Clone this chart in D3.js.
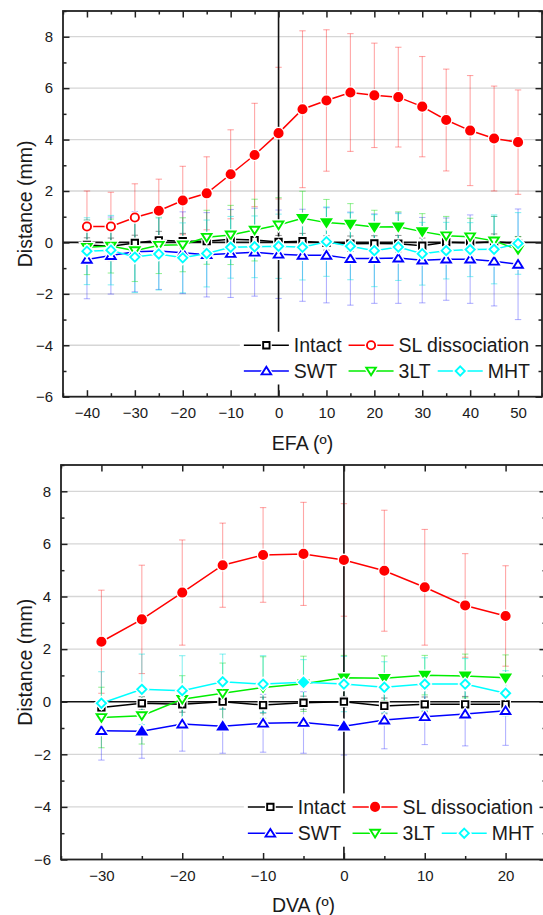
<!DOCTYPE html>
<html>
<head>
<meta charset="utf-8">
<script src="https://cdn.jsdelivr.net/npm/d3@7"></script>
<style>
  body { margin: 0; background: #fff; }
  svg text { font-family: "Liberation Sans", Arial, sans-serif; fill: #1a1a1a; }
</style>
</head>
<body>
<svg id="chart" width="543" height="915"></svg>
<script>
// ---- top panel: EFA ----
const efaAngles = [-40, -35, -30, -25, -20, -15, -10, -5, 0, 5, 10, 15, 20, 25, 30, 35, 40, 45, 50];
const efaIntact = [-0.1, -0.15, -0.02, 0.08, 0.05, 0.05, 0.12, 0.09, 0.02, 0.05, -0.02, -0.05, -0.04, -0.05, -0.13, 0.01, -0.02, 0.03, -0.05];
const efaIntactSd = [0.28, 0.32, 0.3, 0.35, 0.3, 0.3, 0.3, 0.28, 0.25, 0.3, 0.28, 0.3, 0.3, 0.32, 0.3, 0.35, 0.3, 0.3, 0.28];
const efaSl = [0.62, 0.62, 0.97, 1.23, 1.63, 1.91, 2.65, 3.40, 4.25, 5.18, 5.52, 5.83, 5.72, 5.65, 5.28, 4.76, 4.35, 4.04, 3.90];
const efaSlSd = [1.38, 1.33, 1.31, 1.23, 1.33, 1.42, 1.73, 2.01, 2.56, 3.05, 2.75, 2.29, 2.03, 1.94, 1.95, 1.98, 2.14, 2.04, 2.03];
const efaSlFilled = [0, 0, 0, 1, 1, 1, 1, 1, 1, 1, 1, 1, 1, 1, 1, 1, 1, 1, 1];
const efaSwt = [-0.66, -0.51, -0.36, -0.33, -0.4, -0.48, -0.43, -0.38, -0.46, -0.5, -0.5, -0.63, -0.63, -0.61, -0.69, -0.65, -0.65, -0.73, -0.85];
const efaSwtSd = [1.53, 1.5, 1.56, 1.5, 1.59, 1.64, 1.71, 1.71, 1.72, 1.79, 1.85, 1.81, 1.74, 1.76, 1.66, 1.6, 1.72, 1.74, 2.15];
const efa3lt = [-0.19, -0.14, -0.32, -0.11, -0.09, 0.2, 0.29, 0.48, 0.68, 0.94, 0.77, 0.71, 0.6, 0.61, 0.42, 0.26, 0.22, 0.06, -0.28];
const efa3ltSd = [1.06, 1.05, 1.2, 1.1, 1.05, 1.05, 1.15, 1.2, 1.06, 1.05, 0.9, 0.8, 0.65, 0.58, 0.7, 0.75, 0.72, 0.95, 0.5];
const efa3ltFilled = [0, 0, 0, 0, 0, 0, 0, 0, 0, 1, 1, 1, 1, 1, 1, 0, 0, 0, 1];
const efaMht = [-0.34, -0.3, -0.57, -0.45, -0.6, -0.43, -0.19, -0.17, -0.15, -0.19, 0.03, -0.15, -0.32, -0.18, -0.44, -0.32, -0.28, -0.27, -0.04];
const efaMhtSd = [1.3, 1.35, 1.38, 1.4, 1.36, 1.3, 1.2, 1.2, 1.25, 1.27, 1.35, 1.3, 1.4, 1.3, 1.22, 1.1, 1.05, 1.34, 1.2];

// ---- bottom panel: DVA ----
const dvaAngles = [-30, -25, -20, -15, -10, -5, 0, 5, 10, 15, 20];
const dvaIntact = [-0.22, -0.06, -0.1, 0, -0.13, -0.04, 0, -0.16, -0.1, -0.1, -0.1];
const dvaIntactSd = [0.3, 0.25, 0.3, 0.28, 0.3, 0.25, 0.2, 0.3, 0.28, 0.3, 0.3];
const dvaSl = [2.28, 3.13, 4.15, 5.19, 5.58, 5.62, 5.39, 4.98, 4.35, 3.66, 3.26];
const dvaSlSd = [1.96, 2.06, 2.0, 1.6, 1.8, 1.96, 2.14, 2.3, 2.2, 1.97, 1.91];
const dvaSwt = [-1.1, -1.12, -0.85, -0.93, -0.82, -0.79, -0.93, -0.7, -0.57, -0.47, -0.34];
const dvaSwtSd = [1.12, 1.03, 1.03, 1.03, 1.1, 1.17, 1.1, 1.09, 1.06, 1.21, 1.32];
const dvaSwtFilled = [0, 1, 0, 1, 0, 0, 1, 0, 0, 0, 0];
const dva3lt = [-0.6, -0.53, 0.09, 0.32, 0.54, 0.68, 0.91, 0.89, 1.01, 0.98, 0.91];
const dva3ltSd = [1.15, 1.08, 0.9, 1.15, 1.17, 1.05, 0.85, 0.85, 0.75, 0.83, 0.87];
const dva3ltFilled = [0, 0, 0, 0, 0, 0, 1, 1, 1, 1, 1];
const dvaMht = [-0.06, 0.47, 0.42, 0.76, 0.67, 0.74, 0.67, 0.55, 0.67, 0.67, 0.32];
const dvaMhtSd = [1.2, 1.34, 1.33, 1.05, 1.08, 0.86, 1.05, 0.97, 1.0, 0.97, 0.86];
const dvaMhtFilled = [0, 0, 0, 0, 0, 1, 0, 0, 0, 0, 0];

const seriesNames = ['Intact', 'SL dissociation', 'SWT', '3LT', 'MHT'];
const seriesColors = ['#000000', '#ff0000', '#0000ff', '#00ee00', '#00ffff'];
const errColors = ['rgba(0,0,0,0.4)', 'rgba(255,0,0,0.35)', 'rgba(0,0,255,0.3)', 'rgba(0,220,0,0.4)', 'rgba(0,225,225,0.45)'];
const seriesShapes = ['square', 'circle', 'up', 'down', 'diamond'];

const yTicks = [-6, -4, -2, 0, 2, 4, 6, 8];
const yMinor = [-5, -3, -1, 1, 3, 5, 7, 9];
const yGrid = [-4, -2, 2, 4, 6, 8];

const svg = d3.select('#chart');

function markerPath(shape) {
  switch (shape) {
    case 'square': return 'M-3.2,-3.2H3.2V3.2H-3.2Z';
    case 'circle': return d3.symbol(d3.symbolCircle, Math.PI * 4.1 * 4.1)();
    case 'up': return 'M0,-4.2L4.8,3.4L-4.8,3.4Z';
    case 'down': return 'M0,4.2L4.8,-3.4L-4.8,-3.4Z';
    default: return 'M0,-4.6L4.6,0L0,4.6L-4.6,0Z';
  }
}

function drawMarker(sel, shape, color, filled) {
  sel.append('path').attr('d', markerPath(shape))
    .attr('fill', '#fff').attr('stroke', '#fff').attr('stroke-width', 4.5);
  sel.append('path').attr('d', markerPath(shape))
    .attr('fill', filled ? color : '#fff')
    .attr('stroke', color).attr('stroke-width', 1.9);
}

function drawPanel(opt) {
  const x = d3.scaleLinear().domain(opt.xDomain).range(opt.xRange);
  const y = d3.scaleLinear().domain([-6, 9]).range(opt.yRange);
  const g = svg.append('g');

  // grid
  g.append('g').selectAll('line').data(yGrid).enter().append('line')
    .attr('x1', opt.xRange[0]).attr('x2', opt.xRange[1])
    .attr('y1', d => y(d)).attr('y2', d => y(d))
    .attr('stroke', '#d6d6d6').attr('stroke-width', 1.3);

  // error bars
  opt.series.forEach((s, i) => {
    const eb = g.append('g').attr('stroke', errColors[i]).attr('stroke-width', 1.1);
    opt.angles.forEach((a, k) => {
      const cx = x(a), lo = y(s.values[k] - s.sd[k]), hi = y(s.values[k] + s.sd[k]);
      eb.append('line').attr('x1', cx).attr('x2', cx).attr('y1', lo).attr('y2', hi);
      eb.append('line').attr('x1', cx - 3.2).attr('x2', cx + 3.2).attr('y1', lo).attr('y2', lo);
      eb.append('line').attr('x1', cx - 3.2).attr('x2', cx + 3.2).attr('y1', hi).attr('y2', hi);
    });
  });

  // zero lines
  g.append('line').attr('x1', opt.xRange[0]).attr('x2', opt.xRange[1])
    .attr('y1', y(0)).attr('y2', y(0)).attr('stroke', '#111').attr('stroke-width', 1.6);
  g.append('line').attr('x1', x(0)).attr('x2', x(0))
    .attr('y1', opt.yRange[1]).attr('y2', opt.yRange[0]).attr('stroke', '#111').attr('stroke-width', 1.6);

  // series lines + markers
  const line = d3.line().x(d => x(d[0])).y(d => y(d[1]));
  opt.series.forEach((s, i) => {
    g.append('path').datum(opt.angles.map((a, k) => [a, s.values[k]]))
      .attr('d', line).attr('fill', 'none')
      .attr('stroke', seriesColors[i]).attr('stroke-width', 1.5);
    opt.angles.forEach((a, k) => {
      const m = g.append('g').attr('transform', `translate(${x(a)},${y(s.values[k])})`);
      drawMarker(m, seriesShapes[i], seriesColors[i], s.filled ? s.filled[k] : 0);
    });
  });

  // legend
  const lg = g.append('g');
  const box = lg.append('rect').attr('fill', '#fff');
  const items = seriesNames.map((name, i) => {
    const it = lg.append('g');
    it.append('line').attr('x1', 0).attr('x2', 45).attr('y1', 0).attr('y2', 0)
      .attr('stroke', seriesColors[i]).attr('stroke-width', 1.5);
    const m = it.append('g').attr('transform', 'translate(22.5,0)');
    drawMarker(m, seriesShapes[i], seriesColors[i], opt.legendFilled[i]);
    const t = it.append('text').attr('x', 50).attr('y', 0).attr('dy', '0.36em')
      .attr('font-size', 19.5).text(name);
    return { g: it, w: t.node().getComputedTextLength() };
  });
  const col1 = Math.max(items[0].w, items[2].w);
  const gap = 7;
  const right = opt.xRange[1] - 13;
  const left = right - (50 + col1 + gap + 50 + items[1].w);
  const r1 = y(-4), r2 = y(-5);
  items[0].g.attr('transform', `translate(${left},${r1})`);
  items[1].g.attr('transform', `translate(${left + 50 + col1 + gap},${r1})`);
  items[2].g.attr('transform', `translate(${left},${r2})`);
  const x3 = left + 50 + col1 + gap;
  items[3].g.attr('transform', `translate(${x3},${r2})`);
  items[4].g.attr('transform', `translate(${x3 + 50 + items[3].w + gap},${r2})`);
  box.attr('x', left - 4).attr('y', r1 - 13.5)
    .attr('width', opt.xRange[1] - left + 4).attr('height', r2 - r1 + 27);

  // axes (ticks inward on all four sides)
  const ax = (axis, tr) => {
    const a = g.append('g').attr('transform', tr).call(axis);
    a.attr('font-size', 15).attr('font-family', '"Liberation Sans", Arial, sans-serif');
    a.select('.domain').remove();
    a.selectAll('line').attr('stroke', '#222').attr('stroke-width', 1.5);
    a.selectAll('text').attr('fill', '#1a1a1a');
    return a;
  };
  const [x0, x1] = opt.xRange, [yb, yt] = opt.yRange;
  ax(d3.axisBottom(x).tickValues(opt.xTicks).tickSize(-6.5).tickPadding(11).tickFormat(d3.format('d')), `translate(0,${yb})`);
  ax(d3.axisBottom(x).tickValues(opt.xMinor).tickSize(-3.5).tickFormat(''), `translate(0,${yb})`);
  ax(d3.axisTop(x).tickValues(opt.xTicks).tickSize(-6.5).tickFormat(''), `translate(0,${yt})`);
  ax(d3.axisTop(x).tickValues(opt.xMinor).tickSize(-3.5).tickFormat(''), `translate(0,${yt})`);
  ax(d3.axisLeft(y).tickValues(yTicks).tickSize(-6.5).tickPadding(10).tickFormat(d3.format('d')), `translate(${x0},0)`);
  ax(d3.axisLeft(y).tickValues(yMinor).tickSize(-3.5).tickFormat(''), `translate(${x0},0)`);
  ax(d3.axisRight(y).tickValues(yTicks).tickSize(-6.5).tickFormat(''), `translate(${x1},0)`);
  ax(d3.axisRight(y).tickValues(yMinor).tickSize(-3.5).tickFormat(''), `translate(${x1},0)`);

  // frame
  g.append('rect').attr('x', x0).attr('y', yt).attr('width', x1 - x0).attr('height', yb - yt)
    .attr('fill', 'none').attr('stroke', '#222').attr('stroke-width', 1.8);

  // titles
  g.append('text').attr('x', (x0 + x1) / 2).attr('y', opt.xTitleY).attr('dy', '0.36em')
    .attr('text-anchor', 'middle').attr('font-size', 19.5).text(opt.xTitle);
  g.append('text').attr('transform', `translate(25,${(yb + yt) / 2}) rotate(-90)`)
    .attr('dy', '0.36em').attr('text-anchor', 'middle').attr('font-size', 19.5).text('Distance (mm)');
}

drawPanel({
  angles: efaAngles,
  xDomain: [-45, 55], xRange: [63, 542], yRange: [396.7, 11],
  xTicks: [-40, -30, -20, -10, 0, 10, 20, 30, 40, 50],
  xMinor: [-45, -35, -25, -15, -5, 5, 15, 25, 35, 45, 55],
  xTitle: 'EFA (º)', xTitleY: 443,
  legendFilled: [0, 0, 0, 0, 0],
  series: [
    { values: efaIntact, sd: efaIntactSd },
    { values: efaSl, sd: efaSlSd, filled: efaSlFilled },
    { values: efaSwt, sd: efaSwtSd },
    { values: efa3lt, sd: efa3ltSd, filled: efa3ltFilled },
    { values: efaMht, sd: efaMhtSd }
  ]
});

drawPanel({
  angles: dvaAngles,
  xDomain: [-35, 25], xRange: [61, 546], yRange: [859.5, 465],
  xTicks: [-30, -20, -10, 0, 10, 20],
  xMinor: [-35, -25, -15, -5, 5, 15, 25],
  xTitle: 'DVA (º)', xTitleY: 905,
  legendFilled: [0, 1, 0, 0, 0],
  series: [
    { values: dvaIntact, sd: dvaIntactSd },
    { values: dvaSl, sd: dvaSlSd, filled: dvaSl.map(() => 1) },
    { values: dvaSwt, sd: dvaSwtSd, filled: dvaSwtFilled },
    { values: dva3lt, sd: dva3ltSd, filled: dva3ltFilled },
    { values: dvaMht, sd: dvaMhtSd, filled: dvaMhtFilled }
  ]
});
</script>
</body>
</html>
